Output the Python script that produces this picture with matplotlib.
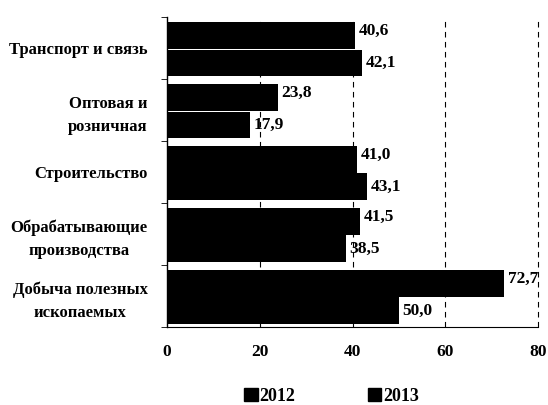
import numpy as np
import matplotlib
matplotlib.use("Agg")
import matplotlib.pyplot as plt
from matplotlib.patches import Patch

categories = ["Транспорт и связь", "Оптовая и\nрозничная", "Строительство",
              "Обрабатывающие\nпроизводства", "Добыча полезных\nископаемых"]
vals_2012 = [40.6, 23.8, 41.0, 41.5, 72.7]
vals_2013 = [42.1, 17.9, 43.1, 38.5, 50.0]
labels_2012 = ["40,6", "23,8", "41,0", "41,5", "72,7"]
labels_2013 = ["42,1", "17,9", "43,1", "38,5", "50,0"]
xticks = [0, 20, 40, 60, 80]

plt.rcParams['font.family'] = ['Liberation Serif', 'DejaVu Serif']
plt.rcParams['font.weight'] = 'bold'

fig = plt.figure(figsize=(5.48, 4.05), dpi=100)
ax = fig.add_axes([0.305, 0.193, 0.677, 0.765])

n = len(categories)
pos = np.arange(n)
h = 0.43
b1 = ax.barh(pos - 0.2, vals_2012, height=h, color='black', zorder=3)
b2 = ax.barh(pos + 0.24, vals_2013, height=h, color='black', zorder=3)

for bar, lab in zip(b1, labels_2012):
    ax.text(bar.get_width() + 0.8, bar.get_y() + bar.get_height() / 2 - 0.08, lab,
            va='center', ha='left', fontsize=12.5, fontweight='bold', zorder=4)
for bar, lab in zip(b2, labels_2013):
    ax.text(bar.get_width() + 0.8, bar.get_y() + bar.get_height() / 2, lab,
            va='center', ha='left', fontsize=12.5, fontweight='bold', zorder=4)

ax.set_ylim(n - 0.5, -0.5)
ax.set_xlim(0, 80)
ax.set_xticks(xticks)
ax.set_xticklabels([str(t) for t in xticks], fontsize=12.5, fontweight='bold')
ax.tick_params(axis='x', length=0, pad=12)

# category labels between the boundary ticks
ax.set_yticks(pos)
ax.set_yticklabels(categories, fontsize=12, fontweight='bold',
                   multialignment='center', linespacing=1.6)
ax.tick_params(axis='y', length=0, pad=14)
ax.set_yticks(np.arange(n + 1) - 0.5, minor=True)
ax.tick_params(axis='y', which='minor', length=4, direction='out')

for t in xticks[1:]:
    ax.axvline(t, color='black', lw=0.8, ls=(0, (5, 4)), zorder=1, clip_on=False)

for s in ['top', 'right']:
    ax.spines[s].set_visible(False)
ax.spines['left'].set_linewidth(1.0)
ax.spines['bottom'].set_linewidth(0.8)

handles = [Patch(color='black', label='2012'), Patch(color='black', label='2013')]
fig.legend(handles=handles, loc='lower center', bbox_to_anchor=(0.605, -0.04), ncol=2,
           frameon=False, prop={'size': 13, 'weight': 'bold'}, handlelength=0.75,
           handleheight=0.75, handletextpad=0.1, columnspacing=4.0)

fig.savefig("out.png", dpi=100)
